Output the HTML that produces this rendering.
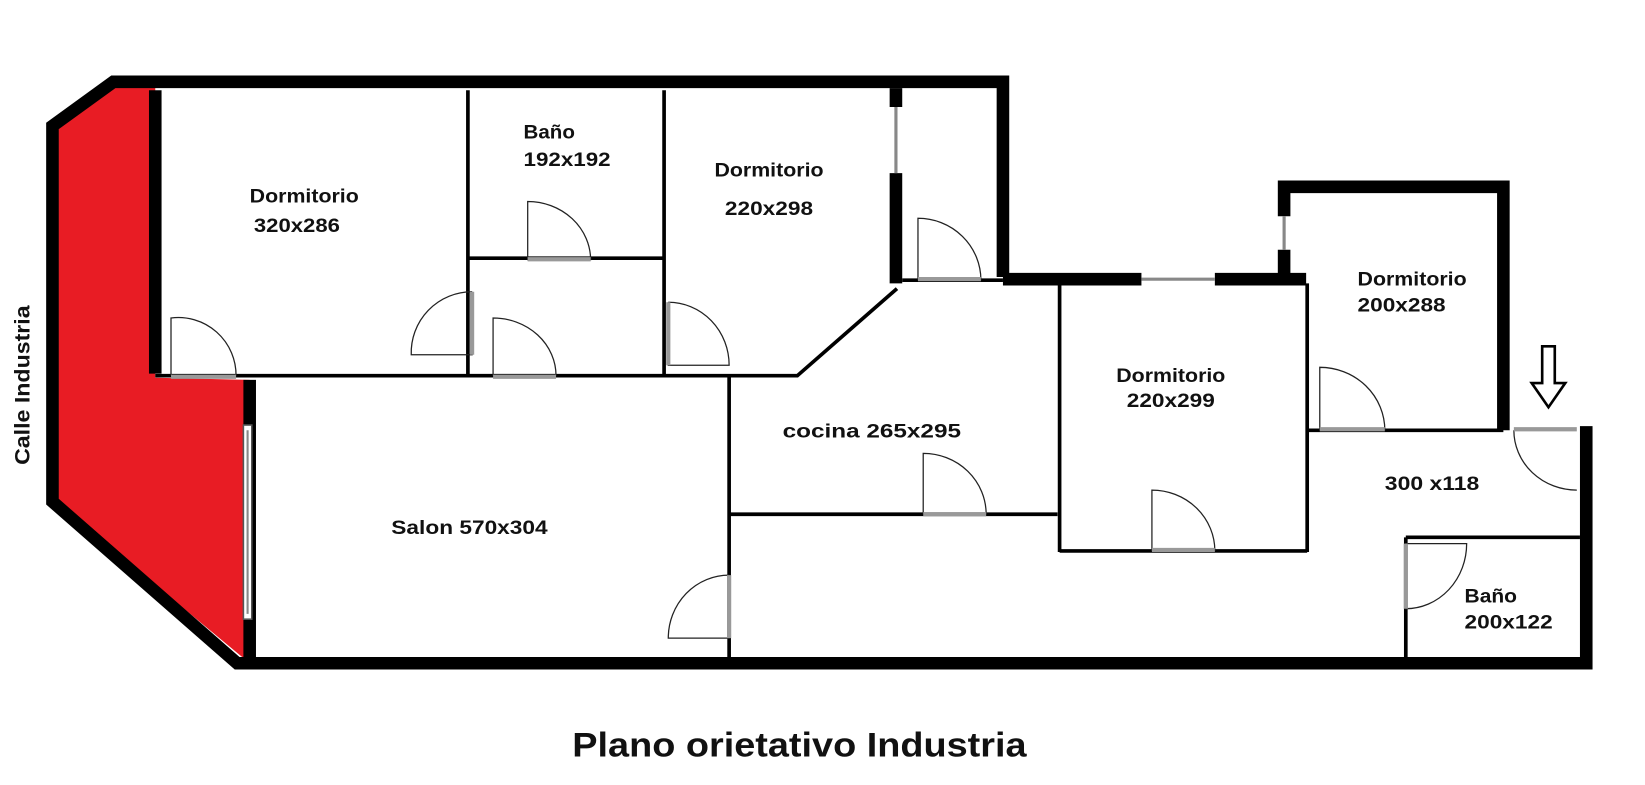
<!DOCTYPE html>
<html><head><meta charset="utf-8"><style>
html,body{margin:0;padding:0;background:#fff;}
svg{display:block;}
text{font-family:"Liberation Sans",Arial,sans-serif;font-weight:bold;fill:#111;}
</style></head><body>
<svg width="1645" height="785" viewBox="0 0 1568 748" preserveAspectRatio="none" xmlns="http://www.w3.org/2000/svg">
<rect width="1568" height="748" fill="#fff"/>
<polygon points="108,80 148,80 148,360 238,362 238,632 50,476 50,120" fill="#e81c24"/>
<g stroke="#000" stroke-width="12" fill="none" stroke-linejoin="miter">
<polyline points="956,264 956,78 108,78 50,120 50,478 226,632 1512,632 1512,406"/>
<line x1="238" y1="362" x2="238" y2="632"/>
<line x1="148" y1="86" x2="148" y2="356"/>
<polyline points="956,266 1088,266"/>
<polyline points="1158,266 1245,266"/>
<polyline points="1224,206 1224,178 1433,178 1433,410"/>
<line x1="1224" y1="238" x2="1224" y2="268"/>
<line x1="854" y1="84" x2="854" y2="102"/>
<line x1="854" y1="165" x2="854" y2="270"/>
</g>
<g stroke="#888" stroke-width="3" fill="none">
<line x1="1088" y1="266" x2="1158" y2="266"/>
<line x1="1224" y1="206" x2="1224" y2="238"/>
<line x1="854" y1="102" x2="854" y2="165"/>
<rect x="232" y="405" width="8" height="185" stroke="#555" stroke-width="1.5" fill="#fff"/>
<line x1="236" y1="410" x2="236" y2="585" stroke-width="2"/>
</g>
<g stroke="#000" stroke-width="3.5" fill="none">
<polyline points="148,358 760,358 855,275"/>
<line x1="446" y1="86" x2="446" y2="358"/>
<line x1="446" y1="246" x2="632" y2="246"/>
<line x1="633" y1="86" x2="633" y2="358"/>
<line x1="695" y1="358" x2="695" y2="630"/>
<line x1="695" y1="490" x2="1008" y2="490"/>
<line x1="1010" y1="272" x2="1010" y2="526"/>
<line x1="1010" y1="525" x2="1246" y2="525"/>
<line x1="1246" y1="270" x2="1246" y2="526"/>
<line x1="1246" y1="410" x2="1433" y2="410"/>
<line x1="1340" y1="512" x2="1506" y2="512"/>
<line x1="1340" y1="512" x2="1340" y2="630"/>
<line x1="860" y1="267" x2="956" y2="267"/>
</g>
<g stroke="#222" stroke-width="1.2" fill="none">
<path d="M163,358 V303 A55,55 0 0 1 225,358"/>
<path d="M450,278 V338 H392 A58,58 0 0 1 450,278"/>
<path d="M503,248 V192 A60,56 0 0 1 563,248"/>
<path d="M470,358 V303 A60,55 0 0 1 530,358"/>
<path d="M637,288 V348 H695 A58,60 0 0 0 637,288"/>
<path d="M875,267 V208 A60,59 0 0 1 935,267"/>
<path d="M880,490 V432 A60,58 0 0 1 940,490"/>
<path d="M695,548 V608 H637 A58,60 0 0 1 695,548"/>
<path d="M1098,525 V467 A60,58 0 0 1 1158,525"/>
<path d="M1258,410 V350 A62,60 0 0 1 1320,410"/>
<path d="M1443,410 A60,57 0 0 0 1503,467"/>
<path d="M1340,518 V580 A58,62 0 0 0 1398,518 Z"/>
</g>
<g stroke="#999" stroke-width="4">
<line x1="163" y1="359" x2="225" y2="359"/>
<line x1="450" y1="278" x2="450" y2="338"/>
<line x1="503" y1="247" x2="563" y2="247"/>
<line x1="470" y1="359" x2="530" y2="359"/>
<line x1="637" y1="288" x2="637" y2="348"/>
<line x1="875" y1="266" x2="935" y2="266"/>
<line x1="880" y1="490" x2="940" y2="490"/>
<line x1="695" y1="548" x2="695" y2="608"/>
<line x1="1098" y1="524" x2="1158" y2="524"/>
<line x1="1258" y1="409" x2="1320" y2="409"/>
<line x1="1443" y1="409" x2="1503" y2="409"/>
<line x1="1340" y1="518" x2="1340" y2="580"/>
</g>
<path d="M1470,330 H1482 V365 H1492 L1476,388 L1460,365 H1470 Z" fill="#fff" stroke="#000" stroke-width="2.5"/>
<g font-size="18.5">
<text x="238" y="193" textLength="104" lengthAdjust="spacingAndGlyphs">Dormitorio</text>
<text x="242" y="221" textLength="82" lengthAdjust="spacingAndGlyphs">320x286</text>
<text x="499" y="132" textLength="49" lengthAdjust="spacingAndGlyphs">Baño</text>
<text x="499" y="158" textLength="83" lengthAdjust="spacingAndGlyphs">192x192</text>
<text x="681" y="168" textLength="104" lengthAdjust="spacingAndGlyphs">Dormitorio</text>
<text x="691" y="205" textLength="84" lengthAdjust="spacingAndGlyphs">220x298</text>
<text x="1294" y="272" textLength="104" lengthAdjust="spacingAndGlyphs">Dormitorio</text>
<text x="1294" y="297" textLength="84" lengthAdjust="spacingAndGlyphs">200x288</text>
<text x="1064" y="364" textLength="104" lengthAdjust="spacingAndGlyphs">Dormitorio</text>
<text x="1074" y="388" textLength="84" lengthAdjust="spacingAndGlyphs">220x299</text>
<text x="746" y="417" textLength="170" lengthAdjust="spacingAndGlyphs">cocina 265x295</text>
<text x="1320" y="467" textLength="90" lengthAdjust="spacingAndGlyphs">300 x118</text>
<text x="373" y="509" textLength="149" lengthAdjust="spacingAndGlyphs">Salon  570x304</text>
<text x="1396" y="574" textLength="50" lengthAdjust="spacingAndGlyphs">Baño</text>
<text x="1396" y="599" textLength="84" lengthAdjust="spacingAndGlyphs">200x122</text>
</g>
<text x="28" y="367" font-size="20" transform="rotate(-90 28 367)" text-anchor="middle" textLength="152" lengthAdjust="spacingAndGlyphs">Calle Industria</text>
<text x="762" y="721" font-size="33" text-anchor="middle" textLength="433" lengthAdjust="spacingAndGlyphs">Plano orietativo Industria</text>
</svg>
</body></html>
